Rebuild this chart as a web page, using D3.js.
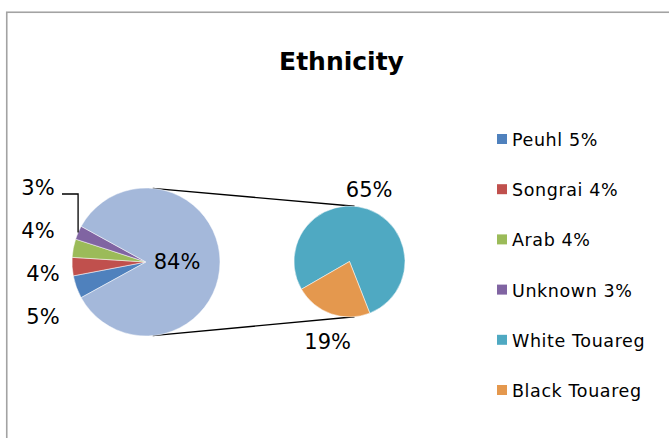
<!DOCTYPE html>
<html>
<head>
<meta charset="utf-8">
<script src="https://cdn.jsdelivr.net/npm/d3@7"></script>
<style>
  html, body { margin: 0; padding: 0; background: #fff; }
  svg { display: block; }
  text { font-family: "DejaVu Sans", sans-serif; fill: #000; }
</style>
</head>
<body>
<svg id="chart" width="669" height="438"></svg>
<script>
// Main pie: the four smaller groups plus the combined Touareg share
const categories = ["Peuhl", "Songrai", "Arab", "Unknown", "Touareg"];
const shares = [5, 4, 4, 3, 84];
const sliceColors = ["#4f81bd", "#c0504d", "#9bbb59", "#8064a2", "#a4b8da"];

// Secondary pie: breakdown of the Touareg share
const detailCategories = ["White Touareg", "Black Touareg"];
const detailShares = [65, 19];
const detailColors = ["#4fa9c2", "#e4984e"];

// Legend entries
const legendLabels = ["Peuhl 5%", "Songrai 4%", "Arab 4%", "Unknown 3%", "White Touareg", "Black Touareg"];
const legendColors = sliceColors.slice(0, 4).concat(detailColors);

const title = "Ethnicity";

const svg = d3.select("#chart");
const W = 669, H = 438;

// chart frame
svg.append("rect")
  .attr("x", 6.75).attr("y", 12.25)
  .attr("width", W + 10).attr("height", H + 10)
  .attr("fill", "#fff")
  .attr("stroke", "#a3a3a3")
  .attr("stroke-width", 1.6);

svg.append("text")
  .attr("x", 341.5).attr("y", 70)
  .attr("text-anchor", "middle")
  .attr("font-weight", "bold")
  .attr("font-size", 25)
  .text(title);

// geometry of the two pies
const main = { cx: 146, cy: 262, r: 74 };
const detail = { cx: 349.5, cy: 261.5, r: 55.5 };
const total = d3.sum(shares);
const otherShare = shares[shares.length - 1] / total;

// the combined slice is centred at 3 o'clock, facing the secondary pie
const mainStart = Math.PI / 2 + Math.PI * otherShare - 2 * Math.PI;
const mainPie = d3.pie().sort(null).value(d => d)
  .startAngle(mainStart).endAngle(mainStart + 2 * Math.PI);
const detailStart = -2 * Math.PI / 3;
const detailPie = d3.pie().sort(null).value(d => d)
  .startAngle(detailStart).endAngle(detailStart + 2 * Math.PI);

const mainArc = d3.arc().innerRadius(0).outerRadius(main.r);
const detailArc = d3.arc().innerRadius(0).outerRadius(detail.r);

const mainArcs = mainPie(shares);
const detailArcs = detailPie(detailShares);

// connector lines: outer tangents of both circles
const dist = detail.cx - main.cx;
const alpha = Math.asin((main.r - detail.r) / dist);
[-1, 1].forEach(s => {
  svg.append("line")
    .attr("x1", main.cx + main.r * Math.sin(alpha))
    .attr("y1", main.cy + s * main.r * Math.cos(alpha))
    .attr("x2", detail.cx + detail.r * Math.sin(alpha))
    .attr("y2", detail.cy + s * detail.r * Math.cos(alpha))
    .attr("stroke", "#000")
    .attr("stroke-width", 1.3);
});

const gMain = svg.append("g").attr("transform", `translate(${main.cx},${main.cy})`);
gMain.selectAll("path").data(mainArcs).join("path")
  .attr("d", mainArc)
  .attr("fill", (d, i) => sliceColors[i])
  .attr("stroke", "#fff")
  .attr("stroke-width", 0.5);

const gDetail = svg.append("g").attr("transform", `translate(${detail.cx},${detail.cy})`);
gDetail.selectAll("path").data(detailArcs).join("path")
  .attr("d", detailArc)
  .attr("fill", (d, i) => detailColors[i])
  .attr("stroke", "#fff")
  .attr("stroke-width", 0.5);

const pct = d3.format(".0%");
const labelSize = 21;

// label of the combined slice, inside the slice
const big = mainArcs[mainArcs.length - 1];
const bigMid = (big.startAngle + big.endAngle) / 2;
svg.append("text")
  .attr("x", main.cx + main.r * 0.42 * Math.sin(bigMid))
  .attr("y", main.cy - main.r * 0.42 * Math.cos(bigMid))
  .attr("text-anchor", "middle")
  .attr("dominant-baseline", "central")
  .attr("font-size", labelSize)
  .text(pct(big.value / total));

// labels of the small slices, stacked on the left of the pie
mainArcs.slice(0, -1).forEach((a, i) => {
  const mid = (a.startAngle + a.endAngle) / 2;
  const ex = main.cx + main.r * Math.sin(mid);
  const ey = main.cy - main.r * Math.cos(mid);
  const lx = main.cx - main.r - 29 - (i >= 2 ? 5 : 0);
  const ly = main.cy + 55 - i * 43;
  svg.append("text")
    .attr("x", lx).attr("y", ly)
    .attr("text-anchor", "middle")
    .attr("dominant-baseline", "central")
    .attr("font-size", labelSize)
    .text(pct(a.value / total));
  // leader line when the label sits far from its slice
  if (Math.hypot(ex - lx, ey - ly) > 50) {
    svg.append("polyline")
      .attr("points", [[ex, ey], [ex, ly + 6], [lx + 24, ly + 6]].map(p => p.join(",")).join(" "))
      .attr("fill", "none")
      .attr("stroke", "#000")
      .attr("stroke-width", 1.3);
  }
});

// labels of the secondary pie, outside the circle
const detailLabelTurn = -4 * Math.PI / 180;
detailArcs.forEach((a, i) => {
  const mid = (a.startAngle + a.endAngle) / 2 + detailLabelTurn;
  const rr = detail.r + (i === 0 ? 19 : 27.5);
  svg.append("text")
    .attr("x", detail.cx + rr * Math.sin(mid))
    .attr("y", detail.cy - rr * Math.cos(mid))
    .attr("text-anchor", "middle")
    .attr("dominant-baseline", "central")
    .attr("font-size", labelSize)
    .text(pct(a.value / total));
});

// legend
const legendY = d3.scalePoint().domain(legendLabels).range([140, 391]);
const legend = svg.append("g");
legendLabels.forEach((lab, i) => {
  const y = legendY(lab);
  legend.append("rect")
    .attr("x", 497).attr("y", y - 6)
    .attr("width", 10).attr("height", 10)
    .attr("fill", legendColors[i]);
  legend.append("text")
    .attr("x", 512).attr("y", y)
    .attr("dominant-baseline", "central")
    .attr("font-size", 17.5)
    .attr("letter-spacing", 0.6)
    .text(lab);
});
</script>
</body>
</html>
